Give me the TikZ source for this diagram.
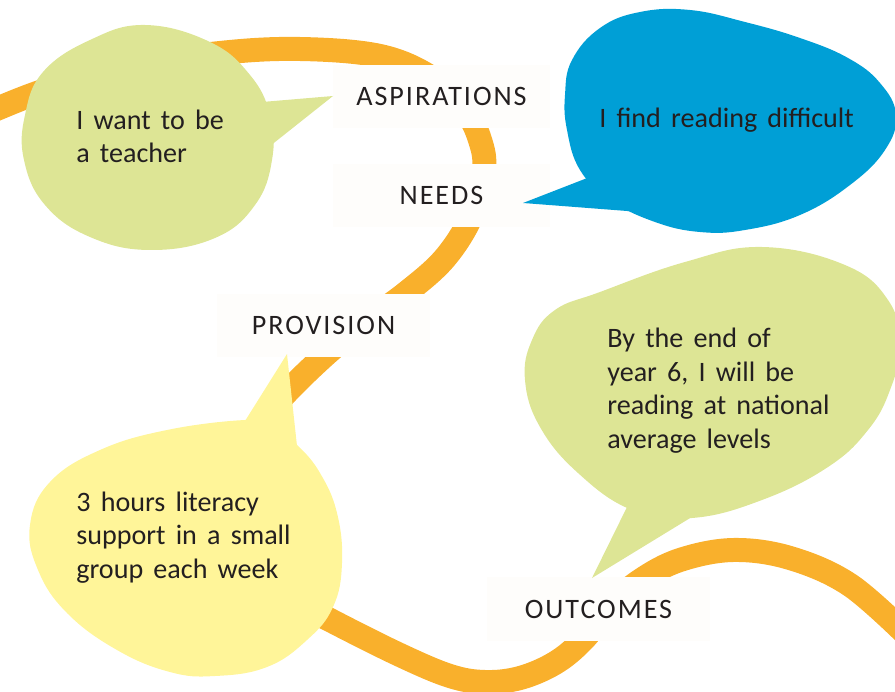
\documentclass[tikz,border=0pt]{standalone}
\usepackage{fontspec}
\setmainfont{Carlito}
\newfontfamily\capsfont[LetterSpace=7]{Carlito}
\newfontfamily\sayingfont[WordSpace=1.6]{Carlito}
\definecolor{ribbonorange}{RGB}{249,176,44}
\definecolor{leafgreen}{RGB}{221,229,149}
\definecolor{skyblue}{RGB}{0,159,214}
\definecolor{paleyellow}{RGB}{255,245,153}
\definecolor{inkgrey}{RGB}{35,31,32}
\definecolor{paper}{RGB}{254,253,251}
\tikzset{
    ribbon/.style={draw=ribbonorange, line width=0.48cm},
    stagebox/.style={fill=paper, minimum height=1.28cm, inner sep=0pt,
        font=\capsfont\fontsize{16}{19}\selectfont, text=inkgrey},
    saying/.style={anchor=base west, align=left, inner sep=0pt,
        font=\sayingfont\fontsize{16}{19}\selectfont, text=inkgrey}
}
\begin{document}
\begin{tikzpicture}[x=0.02cm, y=-0.02cm]
    \useasboundingbox (0,0) rectangle (895,692);

    \draw[ribbon] plot [smooth,tension=0.6]
    coordinates {(-15,114) (40,92) (120,68) (220,53) (300,49) (380,56) (432,78)
    (465,110) (480,140) (484,170) (472,215) (445,258) (406,293) (362,325)
    (322,358) (278,402) (252,440) (240,490) (245,545) (275,590) (330,620)
    (400,655) (450,676) (485,682) (520,678) (555,663) (583,640) (612,605)
    (641,580) (680,560) (733,550) (790,558) (850,585) (910,638)};

    \node[stagebox, minimum width=4.34cm] (aspirations) at (441.5,96.5) {ASPIRATIONS};
    \node[stagebox, minimum width=4.34cm] (needs) at (441.5,195.5) {NEEDS};
    \node[stagebox, minimum width=4.26cm] (provision) at (323.5,325.5) {PROVISION};
    \node[stagebox, minimum width=4.46cm] (outcomes) at (598.5,609) {OUTCOMES};

    \fill[leafgreen] plot [smooth cycle,tension=0.7]
    coordinates {(43,72) (90,40) (145,25) (210,42) (250,75) (270,115) (272,160)
    (255,205) (215,238) (150,250) (90,237) (45,205) (24,160) (25,115)};
    \fill[leafgreen] (262,102) -- (333,96) -- (265,150) -- cycle;

    \fill[skyblue] plot [smooth cycle,tension=0.7]
    coordinates {(572,60) (600,28) (640,12) (690,10) (745,22) (800,38) (848,58)
    (880,83) (896,115) (885,150) (850,185) (800,215) (745,230) (700,232)
    (655,222) (610,200) (580,170) (567,130) (565,95)};
    \fill[skyblue] (595,175) -- (523,203) -- (640,212) -- cycle;

    \fill[paleyellow] plot [smooth cycle,tension=0.7]
    coordinates {(245,420) (167,430) (100,450) (50,482) (30,525) (38,570)
    (67,613) (117,650) (170,672) (215,676) (267,667) (307,640) (333,607)
    (342,563) (337,513) (320,473) (297,445) (270,425)};
    \fill[paleyellow] (245,421) -- (287,354) -- (297,446) -- cycle;

    \fill[leafgreen] plot [smooth cycle,tension=0.7]
    coordinates {(762,247) (845,265) (888,300) (900,345) (890,390) (868,430)
    (828,467) (762,500) (692,518) (632,510) (578,473) (540,427) (525,380)
    (532,340) (555,310) (600,292) (685,262)};
    \fill[leafgreen] (700,512) -- (592,578) -- (628,505) -- cycle;

    \node[saying] (teacher) at (76,163) {I want to be\\a teacher};
    \node[saying] (difficult) at (599,128) {I find reading difficult};
    \node[saying] (literacy) at (76,578) {3 hours literacy\\support in a small\\group each week};
    \node[saying] (average) at (607,448) {By the end of\\year 6, I will be\\reading at national\\average levels};
\end{tikzpicture}
\end{document}
